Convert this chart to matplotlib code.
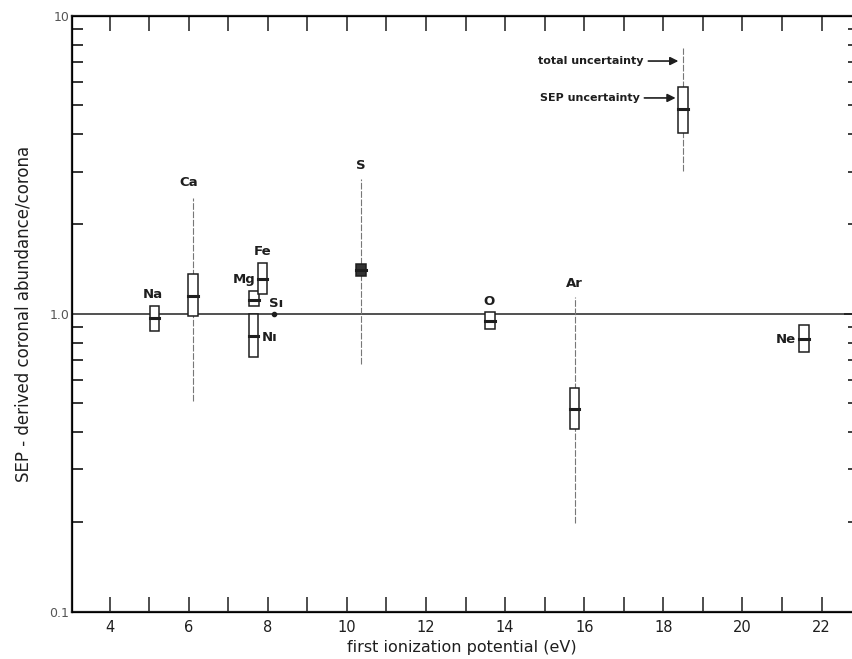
import matplotlib.pyplot as plt
import numpy as np

# first ionization potential (eV) and SEP-derived abundance / corona
elements = ['Na', 'Ca', 'Mg', 'Fe', 'Si', 'Ni', 'S', 'O', 'Ar', 'Ne']
fip = [5.14, 6.11, 7.65, 7.87, 8.15, 7.64, 10.36, 13.62, 15.76, 21.56]
ratio = [0.965, 1.15, 1.11, 1.31, 1.0, 0.84, 1.405, 0.947, 0.478, 0.822]
# SEP uncertainty (box)
sep_lo = [0.877, 0.985, 1.064, 1.165, None, 0.713, 1.34, 0.89, 0.41, 0.741]
sep_hi = [1.064, 1.36, 1.19, 1.476, None, 1.0, 1.47, 1.016, 0.565, 0.916]
# total uncertainty (thin line)
tot_lo = [None, 0.51, None, None, None, None, 0.68, None, 0.198, None]
tot_hi = [None, 2.45, None, None, None, None, 2.84, None, 1.14, None]

# legend sample
leg_x = 18.5
leg_val = 4.85
leg_sep = (4.04, 5.79)
leg_tot = (3.02, 7.77)

# label positions (x, y) in data units
lab_pos = {'Na': (5.1, 1.16), 'Ca': (6.0, 2.75), 'Mg': (7.4, 1.3),
           'Fe': (7.86, 1.62), 'Si': (8.22, 1.08), 'Ni': (8.05, 0.83),
           'S': (10.36, 3.15), 'O': (13.6, 1.1), 'Ar': (15.76, 1.26),
           'Ne': (21.1, 0.82)}
lab_text = {'Si': 'Sı', 'Ni': 'Nı'}

ink = '#1e1e1e'
fig = plt.figure(figsize=(8.53, 6.59), dpi=100)
ax = fig.add_axes([0.0844, 0.072, 0.914, 0.904])
ax.set_yscale('log')
ax.set_xlim(3.05, 22.76)
ax.set_ylim(0.1, 10)

ax.axhline(1.0, color='#333333', lw=1.2, zorder=1)

bw = 0.24
for i, el in enumerate(elements):
    x = fip[i]
    if tot_lo[i] is not None:
        ax.plot([x, x], [tot_lo[i], tot_hi[i]], color='#777777', lw=0.8,
                ls=(0, (6, 1.5)), zorder=2)
    if sep_lo[i] is not None:
        fc = '#333333' if el == 'S' else 'white'
        ax.add_patch(plt.Rectangle((x - bw / 2, sep_lo[i]), bw,
                                   sep_hi[i] - sep_lo[i], fc=fc, ec=ink,
                                   lw=1.1, zorder=3))
        ax.plot([x - bw / 2, x + bw / 2], [ratio[i], ratio[i]], color=ink,
                lw=2.2, zorder=4)
    else:
        ax.plot(x, ratio[i], 'o', color=ink, ms=3, zorder=4)
    tx, ty = lab_pos[el]
    ax.text(tx, ty, lab_text.get(el, el), ha='center', va='center',
            fontsize=9.5, color=ink, fontweight='semibold')

# legend sample on the right
ax.plot([leg_x, leg_x], leg_tot, color='#777777', lw=0.8, ls=(0, (6, 1.5)), zorder=2)
ax.add_patch(plt.Rectangle((leg_x - bw / 2, leg_sep[0]), bw, leg_sep[1] - leg_sep[0],
                           fc='white', ec=ink, lw=1.1, zorder=3))
ax.plot([leg_x - bw / 2, leg_x + bw / 2], [leg_val, leg_val], color=ink, lw=2.2, zorder=4)
ax.annotate('', xy=(leg_x - 0.05, 7.05), xytext=(17.55, 7.05),
            arrowprops=dict(arrowstyle='-|>', color=ink, lw=1.2, mutation_scale=12))
ax.annotate('', xy=(leg_x - bw / 2, 5.3), xytext=(17.45, 5.3),
            arrowprops=dict(arrowstyle='-|>', color=ink, lw=1.2, mutation_scale=12))
ax.text(17.5, 7.05, 'total uncertainty', ha='right', va='center', fontsize=8,
        color=ink, fontweight='semibold')
ax.text(17.4, 5.3, 'SEP uncertainty', ha='right', va='center', fontsize=8,
        color=ink, fontweight='semibold')

# axes styling
for s in ax.spines.values():
    s.set_linewidth(1.6)
    s.set_color(ink)
ax.spines['right'].set_visible(False)
ax.set_xticks(range(4, 23))
ax.set_xticklabels([str(v) if v % 2 == 0 else '' for v in range(4, 23)])
ax.set_yticks([0.1, 1, 10])
ax.set_yticklabels(['0.1', '1.0', '10'])
ax.tick_params(axis='x', which='major', direction='in', length=11, width=1.1,
               top=True, bottom=True, labelsize=10.5, colors=ink, pad=6)
ax.tick_params(axis='y', which='major', direction='in', length=12, width=1.3,
               left=True, right=False, labelsize=9, colors='#555555', pad=2)
ax.tick_params(axis='y', which='minor', direction='in', length=8, width=1.1,
               left=True, right=False, labelleft=False)

# short tick marks along the right edge
axr = ax.twinx()
axr.set_yscale('log')
axr.set_ylim(0.1, 10)
axr.spines['right'].set_visible(False)
axr.tick_params(axis='y', which='both', direction='in', length=3, width=1.2,
                labelright=False, colors=ink)
axr.tick_params(axis='y', which='major', length=6)

ax.set_xlabel('first ionization potential (eV)', fontsize=11.5, color=ink, labelpad=4)
ax.set_ylabel('SEP - derived coronal abundance/corona', fontsize=12, color=ink, labelpad=12)

fig.savefig('out.png', dpi=100)
